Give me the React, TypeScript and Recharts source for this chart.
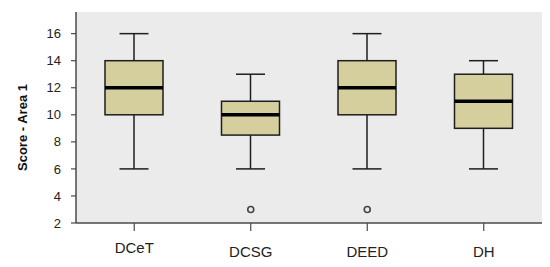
import { ComposedChart, Bar, Scatter, XAxis, YAxis, CartesianGrid } from 'recharts';

const groups = ['DCeT', 'DCSG', 'DEED', 'DH'];
const mins = [6, 6, 6, 6];
const q1s = [10, 8.5, 10, 9];
const medians = [12, 10, 12, 11];
const q3s = [14, 11, 14, 13];
const maxs = [16, 13, 16, 14];
const outliers: (number | null)[] = [null, 3, 3, null];
const yTicks = [2, 4, 6, 8, 10, 12, 14, 16];

const data = groups.map((name, i) => ({
  name,
  min: mins[i],
  q1: q1s[i],
  median: medians[i],
  q3: q3s[i],
  max: maxs[i],
  outlier: outliers[i],
}));

const INK = '#1e1e1e';
const FRAME = '#4a4a4a';
const FONT = '"Liberation Sans", Arial, sans-serif';

function BoxShape(props: any) {
  const { x, y, width, height, payload } = props;
  const { min, q1, median, q3, max } = payload;
  const k = height / (max - min);
  const py = (v: number) => y + (max - v) * k;
  const cx = x + width / 2;
  const cap = width / 4;
  return (
    <g>
      <line x1={cx} x2={cx} y1={py(max)} y2={py(q3)} stroke={INK} strokeWidth={1.5} />
      <line x1={cx} x2={cx} y1={py(q1)} y2={py(min)} stroke={INK} strokeWidth={1.5} />
      <line x1={cx - cap} x2={cx + cap} y1={py(max)} y2={py(max)} stroke={INK} strokeWidth={1.5} />
      <line x1={cx - cap} x2={cx + cap} y1={py(min)} y2={py(min)} stroke={INK} strokeWidth={1.5} />
      <rect x={x} y={py(q3)} width={width} height={py(q1) - py(q3)} fill="#d5cf9d" stroke={INK} strokeWidth={1.5} />
      <line x1={x} x2={x + width} y1={py(median)} y2={py(median)} stroke="#000" strokeWidth={3.5} />
    </g>
  );
}

function OutlierShape(props: any) {
  const { cx, cy, payload } = props;
  if (payload == null || payload.outlier == null || !Number.isFinite(cy)) return null;
  return <circle cx={cx} cy={cy} r={3} fill="#ebebeb" stroke="#444" strokeWidth={1.6} />;
}

function CatTick(props: any) {
  const { x, y, payload } = props;
  const lift = payload.value === 'DCeT' ? -4 : 0;
  return (
    <text x={x} y={y + 24 + lift} textAnchor="middle" fontFamily={FONT} fontSize={15} fill="#222">
      {payload.value}
    </text>
  );
}

export default function App() {
  return (
    <div style={{ position: 'absolute', left: 0, top: 0, background: '#fff' }}>
      <ComposedChart width={550} height={267} data={data} margin={{ top: 12, right: 8, left: 0, bottom: 0 }}>
        <CartesianGrid fill="#ebebeb" horizontal={false} vertical={false} />
        <XAxis
          dataKey="name"
          height={44}
          tickSize={8}
          tick={<CatTick />}
          axisLine={{ stroke: FRAME, strokeWidth: 1.5 }}
          tickLine={{ stroke: FRAME, strokeWidth: 1.2 }}
        />
        <XAxis xAxisId="top" dataKey="name" orientation="top" height={0} tick={false} tickLine={false}
          axisLine={{ stroke: FRAME, strokeWidth: 1.5 }} />
        <YAxis
          type="number"
          domain={[2, 17.6]}
          allowDataOverflow
          ticks={yTicks}
          width={76}
          tickSize={5}
          tickMargin={10}
          tick={{ fontFamily: FONT, fontSize: 13, fill: '#222' }}
          axisLine={{ stroke: FRAME, strokeWidth: 1.5 }}
          tickLine={{ stroke: FRAME, strokeWidth: 1.2 }}
          label={{
            content: ({ viewBox }: any) => (
              <text
                x={viewBox.x + 22}
                y={viewBox.y + viewBox.height / 2 + 10}
                transform={`rotate(-90, ${viewBox.x + 22}, ${viewBox.y + viewBox.height / 2 + 10})`}
                textAnchor="middle"
                dominantBaseline="central"
                fontFamily={FONT}
                fontSize={13}
                fontWeight="bold"
                fill="#111"
              >
                Score - Area 1
              </text>
            ),
          }}
        />
        <YAxis yAxisId="right" orientation="right" type="number" domain={[2, 17.6]} allowDataOverflow
          width={0} tick={false} tickLine={false} axisLine={{ stroke: FRAME, strokeWidth: 1.5 }} />
        <Bar dataKey={(d: any) => [d.min, d.max]} barSize={58} shape={<BoxShape />} isAnimationActive={false} />
        <Scatter dataKey="outlier" shape={<OutlierShape />} isAnimationActive={false} />
      </ComposedChart>
    </div>
  );
}
